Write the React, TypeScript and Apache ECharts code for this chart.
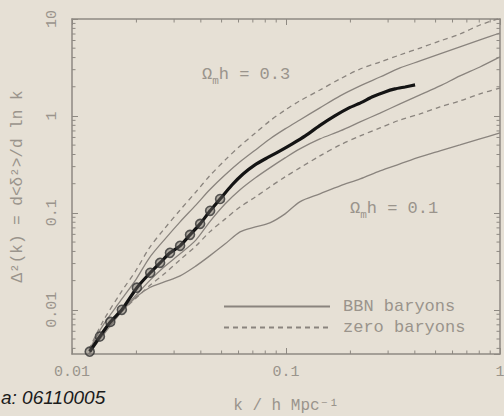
import { useEffect, useRef } from 'react';
import * as echarts from 'echarts';

// wavenumber grid (h Mpc^-1) shared by the model curves
const kGrid = [0.012, 0.014, 0.017, 0.020, 0.023, 0.027, 0.032, 0.038, 0.044, 0.052, 0.061, 0.072, 0.084, 0.099, 0.116, 0.144, 0.179, 0.222, 0.275, 0.341, 0.423, 0.524, 0.650, 0.806, 1.0];

// model curves Δ²(k)
const zeroHigh = [0.0039, 0.0077, 0.0153, 0.0259, 0.0436, 0.0684, 0.107, 0.165, 0.241, 0.352, 0.49, 0.668, 0.888, 1.15, 1.43, 1.85, 2.41, 3.05, 3.6, 4.26, 5.02, 5.93, 7.0, 8.67, 10.2];
const bbnHigh = [0.0038, 0.0070, 0.0127, 0.0209, 0.0344, 0.0527, 0.0808, 0.121, 0.173, 0.247, 0.336, 0.446, 0.579, 0.735, 0.909, 1.21, 1.61, 2.04, 2.52, 3.13, 3.69, 4.36, 5.15, 6.08, 7.17];
const bbnMid = [0.0035, 0.0062, 0.0098, 0.0143, 0.0199, 0.0278, 0.0378, 0.0527, 0.0808, 0.124, 0.173, 0.23, 0.291, 0.369, 0.457, 0.579, 0.70, 0.867, 1.07, 1.33, 1.65, 2.04, 2.59, 3.2, 4.06];
const zeroLow = [0.0035, 0.0058, 0.0095, 0.0133, 0.0177, 0.0235, 0.0328, 0.0457, 0.0637, 0.0867, 0.115, 0.146, 0.185, 0.235, 0.291, 0.387, 0.502, 0.622, 0.752, 0.909, 1.05, 1.24, 1.43, 1.69, 1.94];
const bbnLow = [0.0035, 0.0055, 0.0095, 0.0136, 0.0169, 0.0194, 0.0224, 0.0284, 0.036, 0.0479, 0.0637, 0.0717, 0.0789, 0.0977, 0.13, 0.157, 0.19, 0.224, 0.271, 0.32, 0.378, 0.436, 0.502, 0.579, 0.668];

// measured power spectrum
const apmK = [0.0121, 0.0135, 0.0151, 0.0171, 0.0201, 0.0232, 0.0258, 0.0287, 0.0320, 0.0356, 0.0397, 0.0442, 0.0492, 0.0559, 0.0630, 0.0716, 0.0815, 0.0938, 0.107, 0.123, 0.143, 0.169, 0.197, 0.227, 0.252, 0.290, 0.323, 0.360, 0.401];
const apmD = [0.0037, 0.0053, 0.0075, 0.0100, 0.0169, 0.0241, 0.0305, 0.0387, 0.0457, 0.0593, 0.077, 0.105, 0.139, 0.194, 0.252, 0.313, 0.369, 0.436, 0.515, 0.622, 0.789, 1.0, 1.21, 1.39, 1.57, 1.77, 1.90, 1.99, 2.09];
const markerCount = 13;

// axis ranges and ticks
const kMin = 0.01;
const kMax = 1;
const dMin = 0.0035;
const dMax = 10;
const xMinor = [0.02, 0.03, 0.04, 0.05, 0.06, 0.07, 0.08, 0.09, 0.2, 0.3, 0.4, 0.5, 0.6, 0.7, 0.8, 0.9];
const yMinor = [0.004, 0.005, 0.006, 0.007, 0.008, 0.009, 0.02, 0.03, 0.04, 0.05, 0.06, 0.07, 0.08, 0.09, 0.2, 0.3, 0.4, 0.5, 0.6, 0.7, 0.8, 0.9, 2, 3, 4, 5, 6, 7, 8, 9];

const BG = '#e6e0d5';
const AXIS = '#8e8982';
const LINE = '#8a847e';
const TXT = '#9a948c';
const MONO = 'Liberation Mono, DejaVu Sans Mono, monospace';

const decade = (v: number) => {
  const e = Math.log10(v);
  const r = Math.round(e);
  if (Math.abs(e - r) > 1e-6) return '';
  return r >= 0 ? String(Math.pow(10, r)) : Math.pow(10, r).toFixed(-r);
};

const pairs = (ys: number[]) => kGrid.map((k, i) => [k, ys[i]]);

export default function App() {
  const ref = useRef<HTMLDivElement>(null);
  useEffect(() => {
    const chart = echarts.init(ref.current!, null, { renderer: 'svg' });
    const solid = { color: LINE, width: 1.3, type: 'solid' as const };
    const dashed = { color: LINE, width: 1.3, type: [5, 4] as any };
    const model = (name: string, ys: number[], ls: any) => ({
      type: 'line', name, data: pairs(ys), symbol: 'none', smooth: 0.3,
      lineStyle: ls, itemStyle: { color: LINE }, z: 2, silent: true,
    });
    const tickStyle = { stroke: AXIS, lineWidth: 1 };
    const subRich = (t: string) => ({
      text: `{a|Ω}{s|m}{a|h = ${t}}`,
      rich: {
        a: { fontSize: 17, fontFamily: MONO, fill: TXT, color: TXT, lineHeight: 24, verticalAlign: 'middle' },
        s: { fontSize: 11, fontFamily: MONO, fill: TXT, color: TXT, lineHeight: 24, verticalAlign: 'bottom' },
      },
    });
    const option: any = {
      animation: false,
      backgroundColor: BG,
      grid: { left: 72, right: 4, top: 19, bottom: 62, containLabel: false, outerBoundsMode: 'none' },
      legend: {
        data: ['BBN baryons', 'zero baryons'],
        orient: 'vertical', left: 223, top: 298, padding: 0,
        itemWidth: 106, itemHeight: 14, itemGap: 4,
        itemStyle: { opacity: 0 },
        textStyle: { fontFamily: MONO, fontSize: 17, color: TXT, padding: [0, 0, 0, 8] },
        selectedMode: false,
      },
      xAxis: [
        {
          type: 'log', min: kMin, max: kMax, position: 'bottom',
          axisLine: { lineStyle: { color: AXIS, width: 1.5 } },
          axisTick: { inside: true, length: 6, lineStyle: { color: AXIS } },
          axisLabel: { formatter: decade, margin: 11, color: TXT, fontFamily: MONO, fontSize: 15 },
          splitLine: { show: false },
          name: 'k / h Mpc⁻¹', nameLocation: 'middle', nameGap: 44,
          nameTextStyle: { fontFamily: MONO, fontSize: 16, color: TXT },
        },
        {
          type: 'log', min: kMin, max: kMax, position: 'top',
          axisLine: { lineStyle: { color: AXIS, width: 1.5 } },
          axisTick: { inside: true, length: 6, lineStyle: { color: AXIS } },
          axisLabel: { show: false }, splitLine: { show: false },
        },
      ],
      yAxis: [
        {
          type: 'log', min: dMin, max: dMax, position: 'left',
          axisLine: { lineStyle: { color: AXIS, width: 1.5 } },
          axisTick: { inside: true, length: 6, lineStyle: { color: AXIS } },
          axisLabel: { formatter: decade, rotate: 90, margin: 12, color: TXT, fontFamily: MONO, fontSize: 15, showMinLabel: false },
          splitLine: { show: false },
          name: 'Δ²(k) = d<δ²>/d ln k', nameLocation: 'middle', nameGap: 46,
          nameTextStyle: { fontFamily: MONO, fontSize: 16, color: TXT },
        },
        {
          type: 'log', min: dMin, max: dMax, position: 'right',
          axisLine: { lineStyle: { color: AXIS, width: 1.5 } },
          axisTick: { inside: true, length: 6, lineStyle: { color: AXIS } },
          axisLabel: { show: false }, splitLine: { show: false },
        },
      ],
      series: [
        model('BBN baryons', bbnHigh, solid),
        model('zero baryons', zeroHigh, dashed),
        model('BBN baryons', bbnMid, solid),
        model('zero baryons', zeroLow, dashed),
        model('BBN baryons', bbnLow, solid),
        {
          type: 'line', name: 'APM', data: apmK.map((k, i) => [k, apmD[i]]),
          symbol: 'none', smooth: 0.2, lineStyle: { color: '#141414', width: 3.2 }, z: 5, silent: true,
        },
        {
          type: 'scatter', name: 'APM points', data: apmK.slice(0, markerCount).map((k, i) => [k, apmD[i]]),
          symbol: 'circle', symbolSize: 9,
          itemStyle: { color: 'rgba(110,105,100,0.55)', borderColor: '#333', borderWidth: 1.6 }, z: 6, silent: true,
        },
        {
          type: 'custom', name: 'xminor', silent: true, z: 3,
          data: xMinor.map((k) => [k, dMin]),
          encode: { x: 0, y: 1 },
          renderItem: (_p: any, api: any) => {
            const k = api.value(0);
            const b = api.coord([k, dMin]);
            const t = api.coord([k, dMax]);
            return {
              type: 'group', children: [
                { type: 'line', shape: { x1: b[0], y1: b[1], x2: b[0], y2: b[1] - 3.5 }, style: tickStyle },
                { type: 'line', shape: { x1: t[0], y1: t[1], x2: t[0], y2: t[1] + 3.5 }, style: tickStyle },
              ],
            };
          },
        },
        {
          type: 'custom', name: 'yminor', silent: true, z: 3,
          data: yMinor.map((v) => [kMin, v]),
          encode: { x: 0, y: 1 },
          renderItem: (_p: any, api: any) => {
            const v = api.value(1);
            const l = api.coord([kMin, v]);
            const r = api.coord([kMax, v]);
            return {
              type: 'group', children: [
                { type: 'line', shape: { x1: l[0], y1: l[1], x2: l[0] + 3.5, y2: l[1] }, style: tickStyle },
                { type: 'line', shape: { x1: r[0], y1: r[1], x2: r[0] - 3.5, y2: r[1] }, style: tickStyle },
              ],
            };
          },
        },
      ],
      graphic: [
        { type: 'text', left: 202, top: 66, style: subRich('0.3'), silent: true },
        { type: 'text', left: 350, top: 200, style: subRich('0.1'), silent: true },
        {
          type: 'text', left: 1, top: 388,
          style: { text: 'a: 06110005', font: 'italic 19px "Liberation Sans", Arial, sans-serif', fill: '#1c1c1c' },
          silent: true,
        },
      ],
    };
    chart.setOption(option);
    return () => chart.dispose();
  }, []);
  return <div ref={ref} style={{ position: 'fixed', left: 0, top: 0, width: 504, height: 416, background: BG }} />;
}
